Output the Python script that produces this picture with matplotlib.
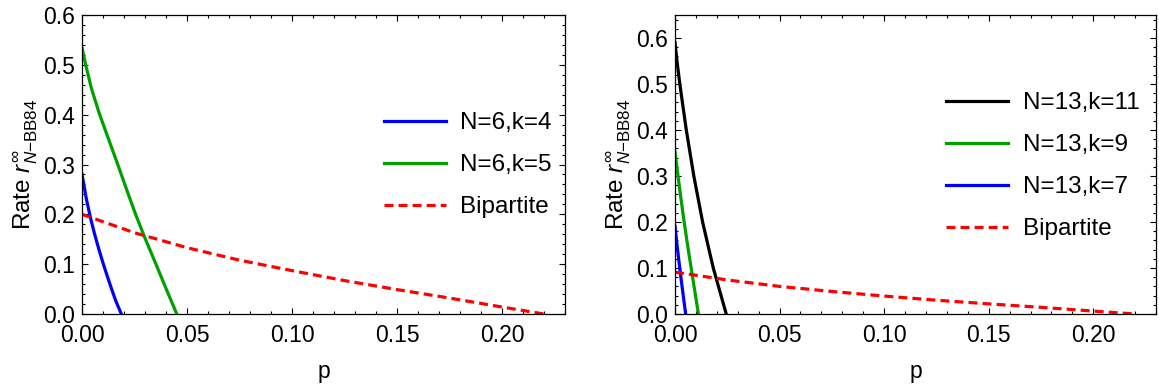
import numpy as np
import matplotlib
matplotlib.use("Agg")
import matplotlib.pyplot as plt
from matplotlib.ticker import MultipleLocator

plt.rcParams['font.family'] = ['Liberation Sans', 'DejaVu Sans']
plt.rcParams['mathtext.fontset'] = 'custom'
plt.rcParams['mathtext.rm'] = 'Liberation Sans'
plt.rcParams['mathtext.it'] = 'Liberation Sans:italic'

# --- left panel: N=6 ---
p6_k4 = [0, 0.002, 0.004, 0.006, 0.008, 0.010, 0.012, 0.014, 0.016, 0.0187]
r6_k4 = [0.28, 0.232, 0.193, 0.160, 0.130, 0.102, 0.076, 0.051, 0.027, 0.0]

p6_k5 = [0, 0.002, 0.0045, 0.0084, 0.0127, 0.017, 0.0212, 0.0255, 0.0300, 0.0348, 0.0398, 0.0451]
r6_k5 = [0.534, 0.495, 0.452, 0.40, 0.35, 0.30, 0.25, 0.20, 0.152, 0.104, 0.053, 0.0]

p6_bi = [0, 0.025, 0.05, 0.075, 0.10, 0.125, 0.15, 0.175, 0.20, 0.22]
r6_bi = [0.20, 0.163, 0.133, 0.108, 0.087, 0.067, 0.049, 0.032, 0.014, 0.0]

# --- right panel: N=13 ---
p13_k11 = [0, 0.001, 0.0023, 0.0054, 0.009, 0.0132, 0.0183, 0.0245]
r13_k11 = [0.59, 0.548, 0.50, 0.40, 0.30, 0.20, 0.10, 0.0]

p13_k9 = [0, 0.002, 0.004, 0.006, 0.008, 0.0112]
r13_k9 = [0.352, 0.280, 0.212, 0.150, 0.092, 0.0]

p13_k7 = [0, 0.001, 0.002, 0.003, 0.004, 0.0051]
r13_k7 = [0.191, 0.149, 0.110, 0.073, 0.038, 0.0]

p13_bi = [0, 0.025, 0.05, 0.075, 0.10, 0.125, 0.15, 0.175, 0.20, 0.22]
r13_bi = [0.091, 0.074, 0.060, 0.049, 0.039, 0.030, 0.022, 0.0145, 0.0064, 0.0]

BLUE = '#0000ff'
GREEN = '#00a000'
RED = '#ff0000'
BLACK = '#000000'
LW = 2.3
DASH = (0, (2.8, 1.6))


def style_axes(ax, ymax):
    ax.set_xlim(0, 0.23)
    ax.set_ylim(0, ymax)
    ax.xaxis.set_major_locator(MultipleLocator(0.05))
    ax.xaxis.set_minor_locator(MultipleLocator(0.01))
    ax.yaxis.set_major_locator(MultipleLocator(0.1))
    ax.yaxis.set_minor_locator(MultipleLocator(0.02))
    ax.xaxis.set_major_formatter(lambda v, pos: f'{v:.2f}')
    ax.yaxis.set_major_formatter(lambda v, pos: f'{v:.1f}')
    ax.tick_params(which='both', direction='in', top=True, right=True,
                   width=0.8, labelsize=16.5)
    ax.tick_params(which='major', length=4.5)
    ax.tick_params(axis='x', which='major', pad=7.5)
    ax.tick_params(axis='y', which='major', pad=5)
    ax.tick_params(which='minor', length=2.5)
    for s in ax.spines.values():
        s.set_linewidth(0.9)
    ax.set_xlabel('p', fontsize=16.5, labelpad=9)
    ax.set_ylabel(r'Rate $r^{\infty}_{N\mathrm{-BB84}}$', fontsize=17.5, labelpad=3)


def add_legend(ax, x0, y0):
    ax.legend(loc='center left', bbox_to_anchor=(x0, y0), frameon=False,
              fontsize=17.5, handlelength=2.55, handletextpad=0.6,
              labelspacing=0.82, borderpad=0, borderaxespad=0)


fig = plt.figure(figsize=(11.59, 3.89), dpi=100)
ax1 = fig.add_axes([0.0708, 0.1928, 0.4167, 0.7686])
ax2 = fig.add_axes([0.5824, 0.1928, 0.4150, 0.7686])

ax1.plot(p6_k4, r6_k4, color=BLUE, lw=LW, label='N=6,k=4')
ax1.plot(p6_k5, r6_k5, color=GREEN, lw=LW, label='N=6,k=5')
ax1.plot(p6_bi, r6_bi, color=RED, lw=LW, ls=DASH, label='Bipartite')
style_axes(ax1, 0.6)
add_legend(ax1, 0.625, 0.497)

ax2.plot(p13_k11, r13_k11, color=BLACK, lw=LW, label='N=13,k=11')
ax2.plot(p13_k9, r13_k9, color=GREEN, lw=LW, label='N=13,k=9')
ax2.plot(p13_k7, r13_k7, color=BLUE, lw=LW, label='N=13,k=7')
ax2.plot(p13_bi, r13_bi, color=RED, lw=LW, ls=DASH, label='Bipartite')
style_axes(ax2, 0.65)
add_legend(ax2, 0.564, 0.494)

fig.savefig('out.png', dpi=100)
